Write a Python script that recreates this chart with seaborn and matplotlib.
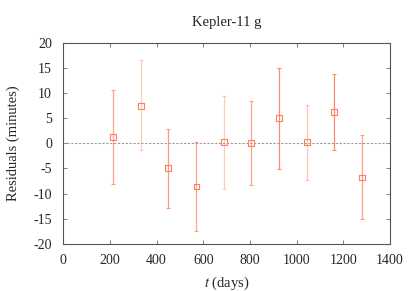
import matplotlib
matplotlib.use('Agg')
import matplotlib.pyplot as plt
import seaborn as sns
import pandas as pd

# transit timing residuals
t_days = [215, 332, 451, 571, 688, 806, 926, 1044, 1161, 1281]
residual = [1.2, 7.5, -4.9, -8.6, 0.2, 0.1, 5.0, 0.2, 6.2, -6.8]
err_up = [10.7, 16.5, 2.9, 0.2, 9.4, 8.5, 15.0, 7.6, 13.8, 1.6]
err_low = [-8.1, -1.3, -12.9, -17.5, -9.0, -8.2, -5.1, -7.2, -1.3, -15.1]
shade = [0.7, 0.4, 0.8, 0.7, 0.4, 0.7, 0.9, 0.45, 0.9, 0.75]

df = pd.DataFrame({'t': t_days, 'res': residual, 'hi': err_up, 'lo': err_low, 'a': shade})

sns.set_style('ticks')
plt.rcParams['font.family'] = ['Liberation Serif', 'DejaVu Serif']
plt.rcParams['mathtext.fontset'] = 'stix'
plt.rcParams['axes.unicode_minus'] = False

fig, ax = plt.subplots(figsize=(4.15, 2.91), dpi=100)
fig.subplots_adjust(left=0.152, right=0.94, top=0.853, bottom=0.162)

ax.axhline(0, color='#999999', ls=(0, (2, 1.5)), lw=0.8, zorder=1)

col = '#ff7f5f'
for _, r in df.iterrows():
    ax.errorbar(r['t'], r['res'], yerr=[[r['res'] - r['lo']], [r['hi'] - r['res']]],
                fmt='none', ecolor=col, alpha=r['a'], elinewidth=0.9, capsize=1.5, capthick=0.8, zorder=2)
sns.scatterplot(data=df, x='t', y='res', marker='s', s=18, facecolor='none',
                edgecolor=col, linewidth=0.8, ax=ax, zorder=3, legend=False)

ax.set_xlim(0, 1400)
ax.set_ylim(-20, 20)
ax.set_xticks(range(0, 1401, 200))
ax.set_yticks(range(-20, 21, 5))
ax.tick_params(direction='in', top=True, right=True, length=3, width=0.6, color='#666666',
               labelsize=10)
ax.tick_params(axis='y', pad=8)
ax.tick_params(axis='x', pad=7)
for s in ax.spines.values():
    s.set_color('#555555')
    s.set_linewidth(0.8)

ax.set_title('Kepler-11 g', fontsize=10.5, pad=12)
ax.set_xlabel('$t$ (days)', fontsize=10.5, labelpad=6)
ax.set_ylabel('Residuals (minutes)', fontsize=10.5, labelpad=10)

fig.savefig('out.png', dpi=100)
